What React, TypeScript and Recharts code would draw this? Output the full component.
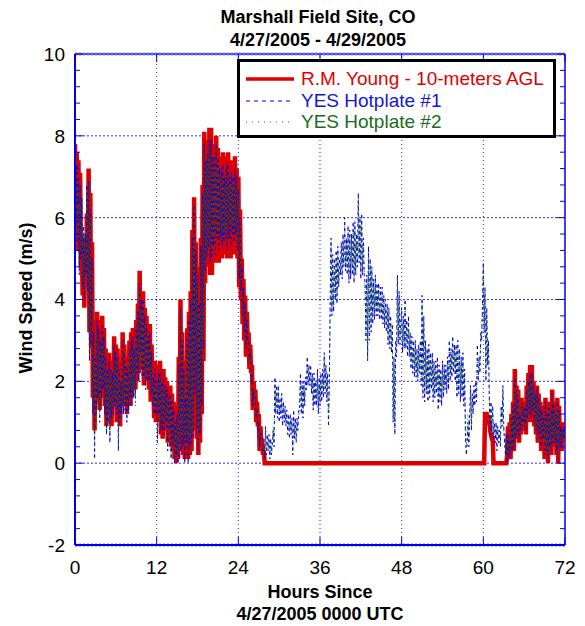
import React from 'react';
import { LineChart, Line, XAxis, YAxis, ReferenceLine, Legend } from 'recharts';

const FONT = "Arial, 'Liberation Sans', Helvetica, sans-serif";
const AXIS = '#0000ee';
const GRID = '#2a2aff';
const RED = '#dd0000';
const BLUE = '#0000dd';
const GREEN = '#0e6a0e';

const W = 585;
const H = 626;
const PLOT_W = 490;
const PLOT_H = 491;

// sample spacing in hours
const STEP = 0.125;

const xTicks = [0, 12, 24, 36, 48, 60, 72];
const xGrid = [12, 24, 36, 48, 60];
const yGrid = [0, 2, 4, 6, 8];
const yTicks = Array.from({ length: 31 }, (_, i) => Math.round((-2 + i * 0.4) * 10) / 10);

// R.M. Young - 10-meters AGL (m/s), hours 0-28, 8 samples per hour
const redEarly = [
  7.8, 5.6, 7.6, 5.2, 7.4, 5.5, 7.1, 4.8,
  5.3, 4.1, 5.5, 3.8, 5.2, 4.4, 6.1, 4.5,
  7.2, 3.2, 6.6, 2.8, 5.4, 1.6, 3.5, 0.8,
  2.9, 1.5, 3.7, 1.8, 3.5, 1.3, 3.2, 1.6,
  3.6, 1.7, 3.3, 1.4, 2.8, 0.9, 2.5, 1.2,
  2.7, 1.3, 2.5, 0.9, 2.4, 1.4, 3.1, 1.6,
  2.9, 1.0, 2.8, 1.5, 2.5, 0.9, 2.3, 1.4,
  3.2, 1.6, 2.9, 1.4, 2.6, 1.2, 2.5, 1.5,
  3.0, 1.4, 3.2, 1.6, 3.3, 1.9, 3.0, 1.8,
  3.5, 2.0, 3.9, 2.2, 4.7, 2.5, 4.2, 2.3,
  4.2, 1.9, 3.8, 2.0, 3.6, 2.2, 3.3, 1.8,
  3.4, 1.5, 2.9, 1.6, 2.3, 1.1, 2.5, 1.0,
  2.2, 1.2, 2.4, 1.0, 2.5, 0.7, 2.2, 0.6,
  2.3, 1.0, 2.1, 0.8, 2.0, 0.5, 1.8, 0.6,
  1.9, 0.4, 1.7, 0.3, 1.5, 0.1, 1.2, 0.0,
  1.4, 0.1, 2.6, 0.3, 4.0, 0.5, 3.2, 0.2,
  2.5, 0.1, 1.8, 0.3, 3.3, 0.1, 3.7, 0.2,
  4.2, 0.3, 5.7, 0.8, 6.5, 1.5, 5.4, 0.6,
  4.8, 0.2, 4.1, 0.5, 5.5, 1.2, 6.8, 2.5,
  8.1, 4.4, 7.6, 4.8, 7.9, 5.0, 8.2, 4.6,
  8.2, 4.6, 7.7, 5.1, 7.8, 4.9, 8.0, 5.2,
  7.7, 4.9, 7.4, 5.3, 7.5, 5.0, 7.6, 5.1,
  7.3, 5.2, 7.5, 5.0, 7.6, 5.3, 7.2, 5.0,
  7.4, 5.3, 7.3, 5.1, 7.5, 5.4, 7.2, 5.0,
  7.0, 4.3, 6.2, 4.0, 5.0, 3.4, 4.5, 3.0,
  4.1, 2.6, 3.7, 2.9, 3.2, 2.3, 2.9, 2.2,
  2.4, 1.3, 2.0, 1.5, 1.8, 1.0, 1.5, 0.9,
  1.2, 0.3, 0.9, 0.5, 0.6, 0.2, 0.3, 0.0,
  0.0,
];

// R.M. Young, hours 60-72 (reads 0 from hour 28 to hour 60)
const redLate = [
  0, 0, 1.2, 1.2, 1.2, 1.1, 1.1, 1.0,
  0.8, 0.7, 0.6, 0.6, 0, 0, 0, 0,
  0, 0, 0, 0, 0, 0, 0, 0,
  0, 0, 0, 0, 0.2, 0.9, 0.1, 1.0,
  0.1, 1.2, 0.3, 1.5, 0.3, 2.3, 0.6, 1.9,
  0.6, 1.8, 0.5, 1.3, 0.7, 1.6, 0.8, 1.4,
  0.9, 1.5, 0.7, 1.9, 1.0, 2.2, 1.1, 2.4,
  1.0, 2.4, 1.2, 2.0, 0.9, 1.8, 0.7, 1.9,
  0.5, 1.7, 0.6, 1.5, 0.3, 1.4, 0.5, 1.2,
  0.1, 1.6, 0.2, 1.3, 0.0, 1.5, 0.3, 1.4,
  0.2, 1.8, 0.4, 1.5, 0.4, 1.3, 0.2, 1.6,
  0.0, 1.4, 0.3, 1.0, 0.3, 0.9, 0.5, 1.0,
  0.7,
];
const RED_LATE_START = 60;

// YES Hotplate #1 (m/s), hours 0-72, 8 samples per hour
const blueValues = [
  7.5, 5.8, 7.3, 5.4, 7.0, 4.6, 6.8, 5.0,
  6.5, 4.3, 5.8, 4.0, 5.6, 4.6, 6.8, 4.2,
  6.9, 2.5, 6.2, 2.9, 5.0, 1.2, 3.2, 0.1,
  2.6, 1.2, 3.5, 1.6, 3.3, 1.0, 3.0, 1.6,
  3.4, 1.8, 3.1, 1.2, 2.6, 0.7, 2.3, 1.0,
  2.5, 0.5, 2.3, 1.1, 2.2, 1.2, 2.9, 1.4,
  2.7, 1.2, 2.6, 0.3, 2.3, 1.1, 2.0, 1.2,
  3.0, 1.2, 2.7, 1.3, 2.4, 1.0, 2.3, 1.3,
  2.8, 1.6, 3.0, 1.4, 3.1, 1.6, 2.8, 1.6,
  3.3, 2.2, 3.7, 2.0, 4.4, 2.7, 4.0, 2.1,
  4.0, 2.1, 3.6, 1.8, 3.4, 2.0, 3.1, 2.0,
  3.2, 1.7, 2.7, 1.4, 2.1, 1.2, 2.3, 1.2,
  2.0, 0.5, 2.2, 1.2, 2.3, 0.8, 2.0, 0.8,
  2.1, 0.7, 1.9, 1.0, 1.8, 0.3, 1.6, 0.8,
  1.7, 0.1, 1.5, 0.5, 1.3, 0.0, 1.0, 0.2,
  1.2, 0.0, 2.4, 0.1, 3.8, 0.3, 3.0, 0.4,
  2.3, 0.0, 1.6, 0.5, 3.1, 0.0, 3.5, 0.4,
  4.0, 0.5, 5.5, 0.6, 6.3, 1.7, 5.2, 0.8,
  4.6, 0.3, 3.9, 0.7, 5.3, 1.4, 6.6, 2.8,
  7.8, 4.7, 7.4, 5.0, 7.6, 5.3, 7.9, 4.9,
  7.9, 5.0, 7.5, 5.3, 7.5, 5.1, 7.8, 5.5,
  7.4, 5.2, 7.2, 5.5, 7.2, 5.3, 7.3, 5.4,
  7.0, 5.5, 7.3, 5.2, 7.3, 5.5, 7.0, 5.3,
  7.1, 5.6, 7.0, 5.4, 7.2, 5.6, 7.0, 5.2,
  6.7, 4.5, 6.0, 4.2, 4.8, 3.6, 4.3, 3.2,
  3.9, 2.8, 3.5, 3.0, 3.0, 2.5, 2.7, 2.0,
  2.2, 1.4, 1.8, 1.6, 1.6, 1.1, 1.3, 0.8,
  1.0, 0.4, 0.8, 0.6, 0.6, 0.3, 0.4, 0.1,
  0.9, 0.2, 0.7, 0.3, 0.7, 0.1, 0.6, 0.2,
  0.5, 0.8, 0.4, 2.1, 1.2, 1.9, 1.1, 1.9,
  1.0, 1.6, 1.1, 1.7, 0.9, 1.5, 1.0, 1.4,
  0.9, 1.3, 0.7, 1.2, 0.6, 1.2, 0.7, 1.1,
  0.2, 1.3, 0.6, 1.1, 0.5, 1.1, 0.8, 1.3,
  1.3, 2.2, 1.2, 2.0, 1.1, 2.0, 1.4, 2.1,
  1.8, 2.6, 1.9, 2.4, 1.9, 2.4, 1.7, 2.2,
  1.3, 2.2, 1.4, 2.0, 1.4, 2.3, 1.2, 2.1,
  1.4, 2.2, 1.5, 2.3, 1.6, 2.7, 1.7, 2.4,
  1.5, 2.2, 0.9, 2.0, 4.0, 5.5, 3.6, 5.1,
  3.7, 5.0, 4.0, 5.2, 3.9, 5.3, 4.3, 5.0,
  4.6, 5.4, 4.5, 5.6, 4.8, 6.0, 4.7, 5.5,
  4.6, 5.8, 4.4, 5.7, 4.5, 5.6, 4.6, 5.9,
  4.4, 5.9, 4.6, 5.6, 4.8, 6.6, 4.9, 6.0,
  4.5, 6.1, 4.6, 5.5, 4.6, 4.4, 3.0, 4.6,
  2.5, 5.3, 3.0, 5.0, 3.2, 4.8, 3.4, 4.5,
  3.5, 4.6, 3.6, 4.4, 3.6, 4.4, 3.5, 4.3,
  3.5, 4.3, 3.4, 4.1, 3.3, 4.0, 3.2, 3.9,
  2.9, 3.8, 2.8, 3.6, 2.7, 3.4, 1.0, 2.6,
  0.7, 3.0, 2.6, 4.6, 2.9, 4.2, 2.9, 3.5,
  3.8, 2.7, 3.6, 2.8, 4.0, 2.8, 3.5, 2.6,
  3.6, 2.6, 3.2, 2.3, 3.1, 2.2, 3.0, 2.1,
  3.0, 2.1, 2.8, 2.0, 2.9, 2.2, 3.0, 1.9,
  4.1, 1.6, 3.6, 1.5, 3.0, 1.7, 2.8, 1.5,
  2.9, 1.6, 2.7, 1.8, 2.7, 1.5, 2.5, 1.6,
  2.5, 1.7, 2.6, 1.3, 2.4, 1.5, 2.3, 1.4,
  2.5, 1.6, 2.4, 1.8, 2.4, 1.7, 2.6, 1.8,
  3.0, 2.0, 2.8, 2.1, 3.1, 2.2, 2.9, 2.0,
  2.9, 1.6, 3.0, 1.7, 2.8, 1.5, 2.6, 1.6,
  2.7, 1.4, 2.3, 0.6, 0.2, 0.5, 1.0, 0.4,
  1.2, 1.9, 0.8, 1.7, 1.2, 1.9, 1.4, 2.0,
  1.5, 2.9, 2.0, 2.6, 2.2, 3.2, 3.0, 3.9,
  4.9, 3.2, 4.3, 2.0, 3.8, 2.4, 3.0, 1.6,
  0.7, 1.5, 0.8, 1.4, 0.6, 1.0, 0.5, 1.0,
  0.3, 0.9, 0.5, 0.8, 0.4, 1.4, 0.9, 1.9,
  0.9, 0.5, 0.2, 0.7, 0.0, 0.8, 0.1, 0.6,
  0.2, 1.1, 0.3, 1.4, 0.4, 2.1, 0.6, 1.8,
  0.7, 1.6, 0.6, 1.2, 0.8, 1.5, 0.9, 1.3,
  1.0, 1.4, 0.8, 1.8, 1.1, 2.0, 1.2, 2.2,
  1.1, 2.2, 1.3, 1.9, 1.0, 1.7, 0.8, 1.8,
  0.6, 1.6, 0.7, 1.4, 0.4, 1.3, 0.6, 1.1,
  0.2, 1.5, 0.3, 1.2, 0.1, 1.4, 0.4, 1.3,
  0.3, 1.7, 0.5, 1.4, 0.5, 1.2, 0.3, 1.5,
  0.1, 1.3, 0.4, 0.9, 0.4, 0.8, 0.6, 0.9,
  0.6,
];

// YES Hotplate #2 (m/s), hours 0-72, 8 samples per hour
const greenValues = [
  7.3, 6.0, 7.1, 5.6, 6.8, 4.9, 6.6, 5.2,
  6.3, 4.5, 5.6, 4.2, 5.4, 4.8, 6.6, 4.4,
  6.7, 2.8, 6.0, 3.1, 4.8, 1.4, 3.0, 0.4,
  2.4, 1.0, 3.3, 1.8, 3.1, 1.2, 2.8, 1.4,
  3.2, 2.0, 2.9, 1.4, 2.4, 0.9, 2.1, 1.2,
  2.3, 0.7, 2.1, 1.3, 2.0, 1.4, 2.7, 1.6,
  2.5, 1.4, 2.4, 0.5, 2.1, 1.3, 1.8, 1.4,
  2.8, 1.4, 2.5, 1.5, 2.2, 1.2, 2.1, 1.5,
  2.6, 1.8, 2.8, 1.6, 2.9, 1.8, 2.6, 1.4,
  3.1, 2.4, 3.5, 2.2, 4.2, 2.5, 3.8, 2.3,
  3.8, 2.3, 3.4, 2.0, 3.2, 2.2, 2.9, 2.2,
  3.0, 1.9, 2.5, 1.6, 1.9, 1.4, 2.1, 1.4,
  1.8, 0.7, 2.0, 1.4, 2.1, 1.0, 1.8, 1.0,
  1.9, 0.9, 1.7, 1.2, 1.6, 0.5, 1.4, 1.0,
  1.5, 0.2, 1.3, 0.7, 1.1, 0.1, 0.8, 0.4,
  1.0, 0.2, 2.2, 0.3, 3.6, 0.5, 2.8, 0.6,
  2.1, 0.2, 1.4, 0.7, 2.9, 0.2, 3.3, 0.6,
  3.8, 0.7, 5.3, 0.8, 6.1, 1.9, 5.0, 1.0,
  4.4, 0.5, 3.7, 0.9, 5.1, 1.6, 6.4, 3.0,
  7.6, 4.9, 7.2, 5.2, 7.4, 5.5, 7.7, 5.1,
  7.7, 5.2, 7.3, 5.5, 7.3, 5.3, 7.6, 5.7,
  7.2, 5.4, 7.0, 5.7, 7.0, 5.5, 7.1, 5.6,
  6.8, 5.7, 7.1, 5.4, 7.1, 5.7, 6.8, 5.5,
  6.9, 5.8, 6.8, 5.6, 7.0, 5.8, 6.8, 5.4,
  6.5, 4.7, 5.8, 4.4, 4.6, 3.8, 4.1, 3.4,
  3.7, 3.0, 3.3, 3.2, 2.8, 2.7, 2.5, 2.2,
  2.0, 1.6, 1.6, 1.8, 1.4, 1.3, 1.1, 1.0,
  0.8, 0.6, 0.6, 0.8, 0.4, 0.5, 0.2, 0.3,
  0.7, 0.3, 0.5, 0.4, 0.5, 0.2, 0.4, 0.3,
  0.6, 0.9, 0.5, 1.9, 1.4, 1.7, 1.3, 1.7,
  1.2, 1.4, 1.3, 1.5, 1.1, 1.3, 1.2, 1.2,
  1.1, 1.1, 0.9, 1.0, 0.8, 1.0, 0.9, 0.9,
  0.4, 1.1, 0.8, 0.9, 0.7, 0.9, 1.0, 1.1,
  1.5, 2.0, 1.4, 1.8, 1.3, 1.8, 1.6, 1.9,
  2.0, 2.4, 2.1, 2.2, 2.1, 2.2, 1.9, 2.0,
  1.5, 2.0, 1.6, 1.8, 1.6, 2.1, 1.4, 1.9,
  1.6, 2.0, 1.7, 2.1, 1.8, 2.5, 1.9, 2.2,
  1.7, 2.0, 1.1, 1.8, 3.8, 5.3, 3.8, 4.9,
  3.9, 4.8, 4.2, 5.0, 4.1, 5.1, 4.5, 4.8,
  4.8, 5.2, 4.7, 5.4, 5.0, 5.8, 4.9, 5.3,
  4.8, 5.6, 4.6, 5.5, 4.7, 5.4, 4.8, 5.7,
  4.6, 5.7, 4.8, 5.4, 5.0, 6.4, 5.1, 5.8,
  4.7, 5.9, 4.8, 5.3, 4.8, 4.2, 3.2, 4.4,
  2.7, 5.1, 3.2, 4.8, 3.4, 4.6, 3.6, 4.3,
  3.7, 4.4, 3.8, 4.2, 3.8, 4.2, 3.7, 4.1,
  3.7, 4.1, 3.6, 3.9, 3.5, 3.8, 3.4, 3.7,
  3.1, 3.6, 3.0, 3.4, 2.9, 3.2, 1.2, 2.4,
  0.9, 2.8, 2.8, 4.4, 3.1, 4.0, 3.1, 3.3,
  3.6, 2.9, 3.4, 3.0, 3.8, 3.0, 3.3, 2.8,
  3.4, 2.8, 3.0, 2.5, 2.9, 2.4, 2.8, 2.3,
  2.8, 2.3, 2.6, 2.2, 2.7, 2.4, 2.8, 2.1,
  3.9, 1.8, 3.4, 1.7, 2.8, 1.9, 2.6, 1.7,
  2.7, 1.8, 2.5, 2.0, 2.5, 1.7, 2.3, 1.8,
  2.3, 1.9, 2.4, 1.5, 2.2, 1.7, 2.1, 1.6,
  2.3, 1.8, 2.2, 2.0, 2.2, 1.9, 2.4, 2.0,
  2.8, 2.2, 2.6, 2.3, 2.9, 2.4, 2.7, 2.2,
  2.7, 1.8, 2.8, 1.9, 2.6, 1.7, 2.4, 1.8,
  2.5, 1.6, 2.1, 0.8, 0.4, 0.7, 1.2, 0.6,
  1.0, 1.7, 1.0, 1.5, 1.4, 1.7, 1.6, 1.8,
  1.7, 2.7, 2.2, 2.4, 2.4, 3.0, 3.2, 3.7,
  4.7, 3.4, 4.1, 2.2, 3.6, 2.6, 2.8, 1.8,
  0.9, 1.3, 1.0, 1.2, 0.8, 0.9, 0.7, 0.9,
  0.5, 0.8, 0.7, 0.7, 0.6, 1.3, 1.0, 1.7,
  0.8, 0.6, 0.4, 0.6, 0.2, 0.7, 0.3, 0.5,
  0.3, 1.0, 0.4, 1.3, 0.5, 2.0, 0.7, 1.7,
  0.8, 1.5, 0.7, 1.1, 0.9, 1.4, 1.0, 1.2,
  1.1, 1.3, 0.9, 1.7, 1.2, 1.9, 1.3, 2.1,
  1.2, 2.1, 1.4, 1.8, 1.1, 1.6, 0.9, 1.7,
  0.7, 1.5, 0.8, 1.3, 0.5, 1.2, 0.7, 1.0,
  0.3, 1.4, 0.4, 1.1, 0.2, 1.3, 0.5, 1.2,
  0.4, 1.6, 0.6, 1.3, 0.6, 1.1, 0.4, 1.4,
  0.2, 1.2, 0.5, 0.8, 0.5, 0.7, 0.7, 0.8,
  0.5,
];

const hours = blueValues.map((_, i) => i * STEP);

const data = hours.map((t, i) => ({ t, blue: blueValues[i], green: greenValues[i] }));

const redData = [
  ...redEarly.map((v, i) => ({ t: i * STEP, red: v })),
  ...redLate.map((v, i) => ({ t: RED_LATE_START + i * STEP, red: v })),
];

const legendItems = [
  { label: 'R.M. Young - 10-meters AGL', color: '#e00000', text: '#e00000', width: 3.5, dash: undefined as string | undefined },
  { label: 'YES Hotplate #1', color: BLUE, text: '#1515d8', width: 1, dash: '4 4' },
  { label: 'YES Hotplate #2', color: '#2a7a2a', text: '#1b6b1b', width: 1, dash: '1 5' },
];

const XTick = (p: any) => {
  const { x, y, payload } = p;
  return (
    <g>
      <line x1={x} x2={x} y1={y} y2={y - 8} stroke={AXIS} strokeWidth={1} />
      <line x1={x} x2={x} y1={y - PLOT_H} y2={y - PLOT_H + 8} stroke={AXIS} strokeWidth={1} />
      <text x={x} y={y + 29} textAnchor="middle" fontSize={19} fontFamily={FONT} fill="#000">
        {payload.value}
      </text>
    </g>
  );
};

const YTick = (p: any) => {
  const { x, y, payload } = p;
  const v = payload.value;
  const r = Math.round(v);
  const major = Math.abs(v - r) < 1e-6 && r % 2 === 0;
  const len = major ? 8 : 5;
  return (
    <g>
      <line x1={x} x2={x + len} y1={y} y2={y} stroke={AXIS} strokeWidth={1} />
      <line x1={x + PLOT_W - len} x2={x + PLOT_W} y1={y} y2={y} stroke={AXIS} strokeWidth={1} />
      {major && (
        <text x={x - 10} y={y} dy="0.36em" textAnchor="end" fontSize={19} fontFamily={FONT} fill="#000">
          {r}
        </text>
      )}
    </g>
  );
};

const LegendBox = () => (
  <div
    style={{
      width: 313,
      height: 73,
      border: '3px solid #000',
      background: '#fff',
      position: 'relative',
      fontFamily: FONT,
    }}
  >
    {legendItems.map((it, i) => (
      <div
        key={it.label}
        style={{
          position: 'absolute',
          left: 6,
          top: 6 + i * 21.5,
          height: 22,
          display: 'flex',
          alignItems: 'center',
          whiteSpace: 'nowrap',
        }}
      >
        <svg width={48} height={8} style={{ display: 'block' }}>
          <line x1={0} x2={48} y1={4} y2={4} stroke={it.color} strokeWidth={it.width} strokeDasharray={it.dash} />
        </svg>
        <span style={{ marginLeft: 7, fontSize: 19, color: it.text, lineHeight: '22px' }}>{it.label}</span>
      </div>
    ))}
  </div>
);

const textBase: React.CSSProperties = {
  position: 'absolute',
  fontFamily: FONT,
  fontWeight: 'bold',
  color: '#000',
  whiteSpace: 'nowrap',
  textAlign: 'center',
};

export default function App() {
  return (
    <div style={{ position: 'absolute', left: 0, top: 0, width: W, height: H, background: '#fff' }}>
      <LineChart
        width={W}
        height={H}
        data={data}
        margin={{ top: 54, right: 20, bottom: 80, left: 74 }}
      >
        <XAxis
          dataKey="t"
          type="number"
          domain={[0, 72]}
          ticks={xTicks}
          interval={0}
          height={1}
          tickSize={0}
          tickMargin={0}
          tick={<XTick />}
          tickLine={false}
          axisLine={{ stroke: AXIS, strokeWidth: 2 }}
          allowDataOverflow
        />
        <YAxis
          type="number"
          domain={[-2, 10]}
          ticks={yTicks}
          interval={0}
          width={1}
          tickSize={0}
          tickMargin={0}
          tick={<YTick />}
          tickLine={false}
          axisLine={{ stroke: AXIS, strokeWidth: 2 }}
          allowDataOverflow
        />
        {xGrid.map((v) => (
          <ReferenceLine key={'gx' + v} x={v} stroke={GRID} strokeWidth={1} strokeDasharray="1 3" />
        ))}
        {yGrid.map((v) => (
          <ReferenceLine key={'gy' + v} y={v} stroke={GRID} strokeWidth={1} strokeDasharray="2 2" />
        ))}
        <ReferenceLine y={10} stroke={AXIS} strokeWidth={1.5} />
        <ReferenceLine y={10} stroke="#6a6aff" strokeWidth={3} strokeDasharray="2 2" />
        <ReferenceLine y={-2} stroke="#6a6aff" strokeWidth={3} strokeDasharray="2 2" />
        <ReferenceLine x={72} stroke={AXIS} strokeWidth={1.5} />
        <Line
          data={redData}
          dataKey="red"
          stroke={RED}
          strokeWidth={4.5}
          dot={false}
          isAnimationActive={false}
        />
        <Line
          dataKey="blue"
          stroke={BLUE}
          strokeWidth={1}
          strokeDasharray="3 3"
          dot={false}
          isAnimationActive={false}
        />
        <Line
          dataKey="green"
          stroke={GREEN}
          strokeWidth={1}
          strokeDasharray="1 3"
          dot={false}
          isAnimationActive={false}
        />
        <Legend
          layout="vertical"
          align="center"
          verticalAlign="middle"
          content={<LegendBox />}
          wrapperStyle={{ position: 'absolute', left: 237, top: 59, width: 319, height: 79 }}
        />
      </LineChart>
      <div style={{ ...textBase, left: 0, width: 636, top: 6, fontSize: 18, lineHeight: '23px' }}>
        Marshall Field Site, CO
        <br />
        4/27/2005 - 4/29/2005
      </div>
      <div style={{ ...textBase, left: 0, width: 640, top: 581, fontSize: 18, lineHeight: '22px' }}>
        Hours Since
        <br />
        4/27/2005 0000 UTC
      </div>
      <div
        style={{
          ...textBase,
          left: 26,
          top: 298,
          fontSize: 18,
          transform: 'translate(-50%, -50%) rotate(-90deg)',
        }}
      >
        Wind Speed (m/s)
      </div>
    </div>
  );
}
